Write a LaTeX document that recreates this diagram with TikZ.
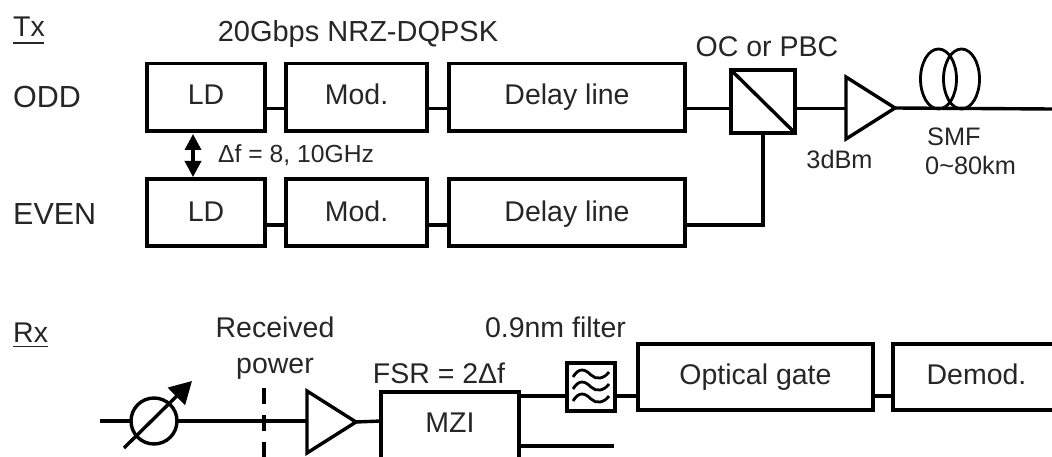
\documentclass[tikz,border=0pt]{standalone}
\usepackage{fontspec}
\setmainfont{Liberation Sans}
\usetikzlibrary{shapes.geometric,arrows.meta}
\definecolor{ink}{HTML}{262626}
\tikzset{
  lw/.style={line width=3.4pt,black},
  blk/.style={draw=black,line width=3.4pt,inner sep=0pt,outer sep=0pt,text=ink,text height=15pt,text depth=0pt,font=\fontsize{28.5}{30}\selectfont},
  lowrow/.style={text height=19pt},
  lbl/.style={inner sep=0pt,text=ink,font=\fontsize{28.5}{30}\selectfont},
  small/.style={inner sep=0pt,text=ink,font=\fontsize{25.3}{30}\selectfont},
  tri/.style={draw=black,line width=3.4pt,isosceles triangle,isosceles triangle stretches,inner sep=0pt,outer sep=0pt,minimum height=49pt,minimum width=62pt},
}
\newcommand{\boxat}[7][]{\node[blk,#1,minimum width=#5pt-#4pt,minimum height=#7pt-#6pt,anchor=north west] (#2) at (#4,#6) {#3};}
\begin{document}
\begin{tikzpicture}[x=1pt,y=-1pt]
\useasboundingbox (0,0) rectangle (1052,457);
\boxat{ld1}{LD}{147}{265}{63.5}{131}
\boxat{mod1}{Mod.}{286}{427}{63.5}{131}
\boxat{dl1}{Delay line}{449}{685}{63.5}{131}
\boxat[lowrow]{ld2}{LD}{147}{265}{179}{246}
\boxat[lowrow]{mod2}{Mod.}{286}{427}{179}{246}
\boxat[lowrow]{dl2}{Delay line}{449}{685}{179}{246}
\boxat{pbc}{}{731}{795}{70}{133}
\node[tri,anchor=right corner] (amp1) at (846,139) {};
\coordinate (end1) at (1052,109);
\coordinate (c1) at (938.5,79);
\coordinate (c2) at (961.5,79);
\draw[lw] (ld1.east|-0,108.5) -- (mod1.west|-0,108.5);
\draw[lw] (mod1.east|-0,108.5) -- (dl1.west|-0,108.5);
\draw[lw] (dl1.east|-0,108.5) -- (pbc.west|-0,108.5);
\draw[lw] (pbc.east|-0,108.5) -- (amp1.right corner|-0,108.5);
\draw[lw] (amp1.apex) -- (end1);
\draw[lw] (ld2.east|-0,225) -- (mod2.west|-0,225);
\draw[lw] (mod2.east|-0,225) -- (dl2.west|-0,225);
\draw[lw] (dl2.east|-0,225) -| (pbc.south);
\draw[line width=3.4pt] (pbc.north west) -- (pbc.south east);
\draw[line width=2.8pt] (c1) ellipse (18pt and 30pt);
\draw[line width=2.8pt] (c2) ellipse (18pt and 30pt);
\draw[line width=3.5pt,{Triangle[width=16pt,length=16pt]}-{Triangle[width=16pt,length=16pt]}] (193,134) -- (193,177);
\node[lbl,anchor=base west] (tx) at (13,37) {Tx};
\draw[line width=1.5pt,ink] (13,43) -- (44,43);
\node[lbl,anchor=base west,font=\fontsize{30.5}{30}\selectfont] (odd) at (13,108) {ODD};
\node[lbl,anchor=base west,font=\fontsize{30.5}{30}\selectfont] (even) at (13,225) {EVEN};
\node[lbl,anchor=base,font=\fontsize{29}{30}\selectfont] (t1) at (358,42) {20Gbps NRZ-DQPSK};
\node[lbl,anchor=base] (t2) at (767,57) {OC or PBC};
\node[small,anchor=base] (t3) at (839.5,169) {3dBm};
\node[small,anchor=base west] (t4) at (927,146) {SMF};
\node[small,anchor=base west] (t5) at (925,175) {0\textasciitilde 80km};
\node[small,anchor=base west,font=\fontsize{24.7}{30}\selectfont] (t6) at (218,163) {Δf = 8, 10GHz};
% Rx
\node[lbl,anchor=base west] (rx) at (13,342) {Rx};
\draw[line width=1.5pt,ink] (13,346.5) -- (48,346.5);
\node[lbl,anchor=base] (t7) at (275,337) {Received};
\node[lbl,anchor=base] (t8) at (275,373) {power};
\node[lbl,anchor=base] (t9) at (555.5,337) {0.9nm filter};
\node[lbl,anchor=base] (t10) at (439,383) {FSR = 2Δf};
\node[draw=black,line width=3.4pt,circle,minimum size=46pt,inner sep=0pt,outer sep=0pt] (voa) at (154,421) {};
\coordinate (in) at (100,421);
\coordinate (a1) at (124,448);
\coordinate (a2) at (192,381);
\draw[lw] (in) -- (voa.west);
\draw[line width=3.4pt,-{Triangle[width=24pt,length=22pt]}] (a1) -- (a2);
\node[tri,anchor=right corner] (amp2) at (307,453) {};
\draw[lw] (voa.east) -- (amp2.right corner|-0,421);
\coordinate (d1) at (264,388);
\coordinate (d2) at (264,457);
\draw[line width=3.4pt,dash pattern=on 16pt off 11pt] (d1) -- (d2);
\boxat{mzi}{}{381}{519}{392}{458.5}
\node[lbl,anchor=base] (t11) at (450,432) {MZI};
\draw[lw] (amp2.apex) -- (mzi.west|-0,421);
\boxat{flt}{}{567}{615}{363}{411}
\boxat{gate}{Optical gate}{638}{873}{344}{410}
\boxat{dem}{Demod.}{893}{1060}{344}{410}
\coordinate (o2) at (614,446);
\draw[lw] (mzi.east|-0,396) -- (flt.west|-0,396);
\draw[lw] (flt.east|-0,396) -- (gate.west|-0,396);
\draw[lw] (gate.east|-0,396) -- (dem.west|-0,396);
\draw[lw] (mzi.east|-0,446) -- (o2);
\foreach \yy in {374,386,398}
  \draw[line width=2.8pt] (573,\yy+3) .. controls (579,\yy-7) and (585,\yy-5) .. (591,\yy+1) .. controls (596,\yy+6) and (604,\yy+5) .. (609,\yy-2);
\end{tikzpicture}
\end{document}
